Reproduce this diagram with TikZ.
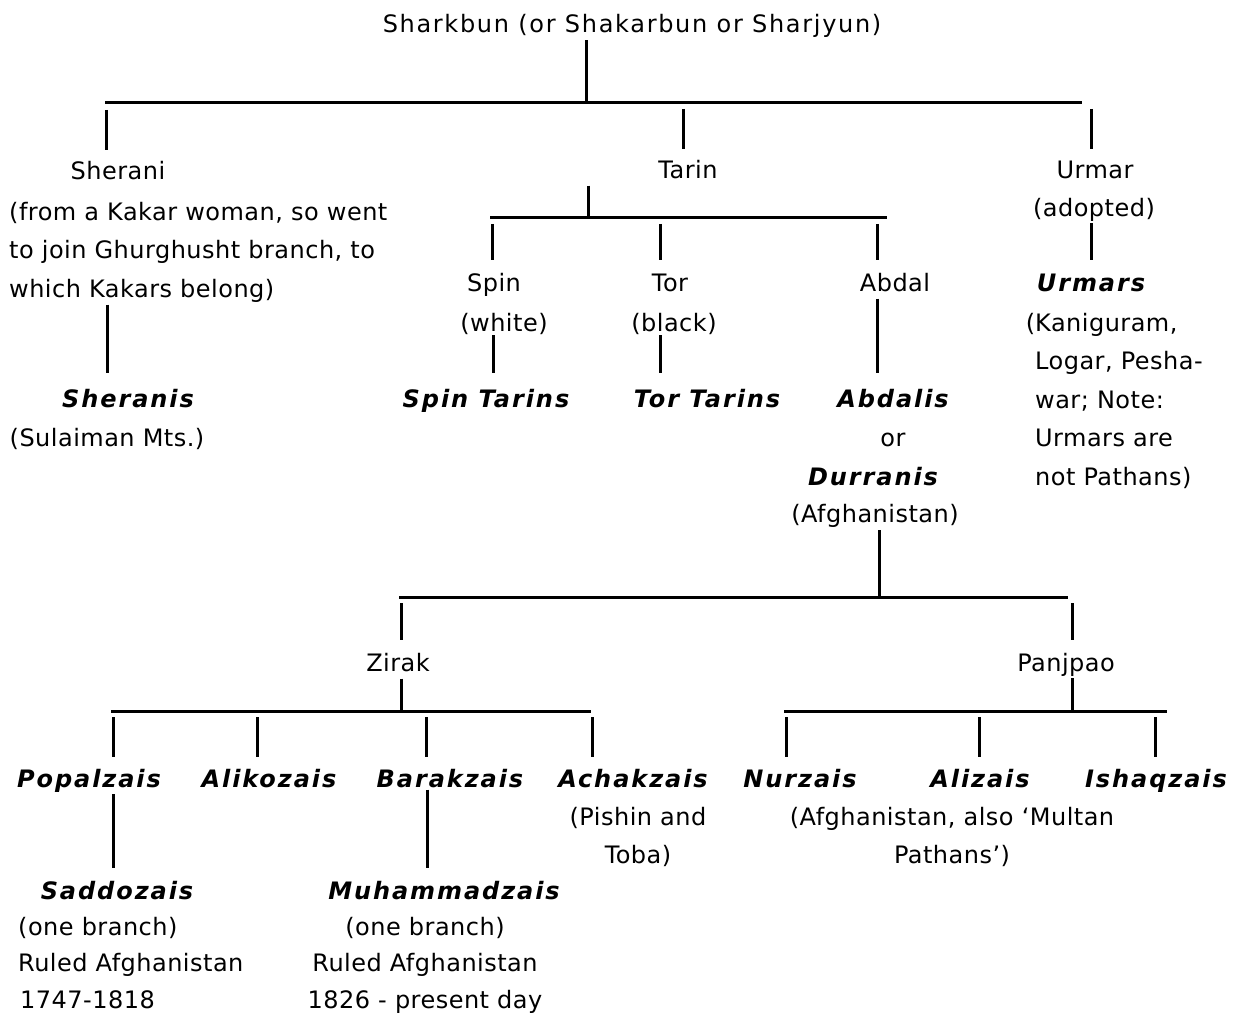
\documentclass[tikz,border=0pt]{standalone}
\usepackage{fontspec}
\setmainfont{DejaVu Sans}[LetterSpace=2]
\newfontfamily\titlefont{DejaVu Sans}[LetterSpace=7]
\newfontfamily\tribefont{DejaVu Sans}[LetterSpace=8]
\newcommand\regsize{\fontsize{24}{38.5}\selectfont}
\newcommand\tightsize{\fontsize{24}{36.5}\selectfont}
\begin{document}
\begin{tikzpicture}[x=1pt,y=-1pt]
\tikzset{
  t/.style={inner sep=0pt, anchor=base, font=\regsize},
  tb/.style={inner sep=0pt, anchor=base, font=\tribefont\bfseries\itshape\regsize},
  tt/.style={inner sep=0pt, anchor=base, font=\titlefont\regsize},
  nl/.style={inner sep=0pt, anchor=north west, align=left, font=\regsize},
  nc/.style={inner sep=0pt, anchor=north, align=center, font=\regsize},
  ln/.style={line width=3pt},
}
\useasboundingbox (0,0) rectangle (1233,1016);
\fill[white] (0,0) rectangle (1233,1016);

% ---------- nodes ----------
\node[tt] (root) at (632,33) {Sharkbun (or Shakarbun or Sharjyun)};

\node[t] (sherani) at (118,180) {Sherani};
\node[nl] (shernote) at (9,202) {(from a Kakar woman, so went\\to join Ghurghusht branch, to\\which Kakars belong)};
\node[tb] (sheranis) at (128,407) {Sheranis};
\node[t] (sulaiman) at (107,446) {(Sulaiman Mts.)};

\node[t] (tarin) at (688,179) {Tarin};
\node[t] (spin) at (494,291) {Spin};
\node[t] (white) at (504,331) {(white)};
\node[tb] (spintarins) at (486,407) {Spin Tarins};
\node[t] (tor) at (670,291) {Tor};
\node[t] (black) at (674,331) {(black)};
\node[tb] (tortarins) at (707,407) {Tor Tarins};
\node[t] (abdal) at (895,291) {Abdal};
\node[tb] (abdalis) at (893,407) {Abdalis};
\node[t] (or) at (893,446) {or};
\node[tb] (durranis) at (873,485) {Durranis};
\node[t] (afgh) at (875,522) {(Afghanistan)};

\node[t] (urmar) at (1095,179) {Urmar};
\node[t] (adopted) at (1094,217) {(adopted)};
\node[tb] (urmars) at (1091,291) {Urmars};
\node[nl] (urmnote) at (1035,313) {\llap{(}Kaniguram,\\Logar, Pesha-\\war;  Note:\\Urmars are\\not Pathans)};

\node[t] (zirak) at (398,671) {Zirak};
\node[t] (panjpao) at (1066,671) {Panjpao};

\node[tb] (popalzais) at (89,787) {Popalzais};
\node[tb] (alikozais) at (269,787) {Alikozais};
\node[tb] (barakzais) at (450,787) {Barakzais};
\node[tb] (achakzais) at (633,787) {Achakzais};
\node[nc] (achnote) at (638,807) {(Pishin and\\Toba)};

\node[tb] (nurzais) at (800,787) {Nurzais};
\node[tb] (alizais) at (980,787) {Alizais};
\node[tb] (ishaqzais) at (1156,787) {Ishaqzais};
\node[nc] (nurnote) at (952,807) {(Afghanistan, also `Multan\\Pathans')};

\node[tb] (saddozais) at (117,899) {Saddozais};
\node[nl, font=\tightsize] (saddnote) at (18,917) {(one branch)\\Ruled Afghanistan\\\hspace*{2pt}1747-1818};
\node[tb] (muhammadzais) at (444,899) {Muhammadzais};
\node[nc, font=\tightsize] (muhnote) at (425,917) {(one branch)\\Ruled Afghanistan\\1826 - present day};

% ---------- junction coordinates ----------
\coordinate (b0l) at (105,103);
\coordinate (b0r) at (1082,103);
\coordinate (j0) at (586,103);
\coordinate (c1) at (106,103);
\coordinate (c2) at (683,103);
\coordinate (c3) at (1091,103);

\coordinate (b1l) at (490,218);
\coordinate (b1r) at (887,218);
\coordinate (j1) at (588,218);
\coordinate (d1) at (492,218);
\coordinate (d2) at (660,218);
\coordinate (d3) at (877,218);

\coordinate (xsher) at (107,0);
\coordinate (xspin) at (493,0);
\coordinate (xtor) at (660,0);
\coordinate (xabd) at (877,0);
\coordinate (xurm) at (1091,0);

\coordinate (b2l) at (399,597);
\coordinate (b2r) at (1068,597);
\coordinate (j2) at (879,597);
\coordinate (e1) at (401,597);
\coordinate (e2) at (1072,597);

\coordinate (b3l) at (111,711);
\coordinate (b3r) at (591,711);
\coordinate (j3) at (401,711);
\coordinate (f1) at (113,711);
\coordinate (f2) at (257,711);
\coordinate (f3) at (426,711);
\coordinate (f4) at (592,711);

\coordinate (b4l) at (784,711);
\coordinate (b4r) at (1167,711);
\coordinate (j4) at (1072,711);
\coordinate (g1) at (786,711);
\coordinate (g2) at (979,711);
\coordinate (g3) at (1155,711);

\coordinate (xpop) at (113,0);
\coordinate (xbar) at (427,0);

% ---------- connectors ----------
% level 0
\draw[ln] ([yshift=-2pt]root.south -| j0) -- (j0);
\draw[ln] (b0l) -- (b0r);
\draw[ln] (c1) ++(0,7) -- ([yshift=12pt]sherani.north -| c1);
\draw[ln] (c2) ++(0,6) -- ([yshift=12pt]tarin.north -| c2);
\draw[ln] (c3) ++(0,6) -- ([yshift=12pt]urmar.north -| c3);

% Sherani
\draw[ln] ([yshift=-2pt]shernote.south -| xsher) -- ([yshift=16pt]sheranis.north -| xsher);

% Tarin
\draw[ln] ([yshift=-6pt]tarin.south -| j1) -- (j1);
\draw[ln] (b1l) -- (b1r);
\draw[ln] (d1) ++(0,6) -- ([yshift=13pt]spin.north -| d1);
\draw[ln] (d2) ++(0,6) -- ([yshift=13pt]tor.north -| d2);
\draw[ln] (d3) ++(0,6) -- ([yshift=13pt]abdal.north -| d3);
\draw[ln] ([yshift=-1pt]white.south -| xspin) -- ([yshift=16pt]spintarins.north -| xspin);
\draw[ln] ([yshift=-1pt]black.south -| xtor) -- ([yshift=16pt]tortarins.north -| xtor);
\draw[ln] ([yshift=-7pt]abdal.south -| xabd) -- ([yshift=16pt]abdalis.north -| xabd);

% Urmar
\draw[ln] ([yshift=-1pt]adopted.south -| xurm) -- ([yshift=13pt]urmars.north -| xurm);

% Abdali / Durrani
\draw[ln] ([yshift=-3pt]afgh.south -| j2) -- (j2);
\draw[ln] (b2l) -- (b2r);
\draw[ln] (e1) ++(0,6) -- ([yshift=13pt]zirak.north -| e1);
\draw[ln] (e2) ++(0,6) -- ([yshift=13pt]panjpao.north -| e2);

% Zirak
\draw[ln] ([yshift=-7pt]zirak.south -| j3) -- (j3);
\draw[ln] (b3l) -- (b3r);
\draw[ln] (f1) ++(0,6) -- ([yshift=12pt]popalzais.north -| f1);
\draw[ln] (f2) ++(0,6) -- ([yshift=12pt]alikozais.north -| f2);
\draw[ln] (f3) ++(0,6) -- ([yshift=12pt]barakzais.north -| f3);
\draw[ln] (f4) ++(0,6) -- ([yshift=12pt]achakzais.north -| f4);

% Panjpao
\draw[ln] ([yshift=-2pt]panjpao.south -| j4) -- (j4);
\draw[ln] (b4l) -- (b4r);
\draw[ln] (g1) ++(0,6) -- ([yshift=12pt]nurzais.north -| g1);
\draw[ln] (g2) ++(0,6) -- ([yshift=12pt]alizais.north -| g2);
\draw[ln] (g3) ++(0,6) -- ([yshift=12pt]ishaqzais.north -| g3);

% ruling branches
\draw[ln] ([yshift=-2pt]popalzais.south -| xpop) -- ([yshift=13pt]saddozais.north -| xpop);
\draw[ln] ([yshift=-2pt]barakzais.south -| xbar) -- ([yshift=13pt]muhammadzais.north -| xbar);
\end{tikzpicture}
\end{document}
